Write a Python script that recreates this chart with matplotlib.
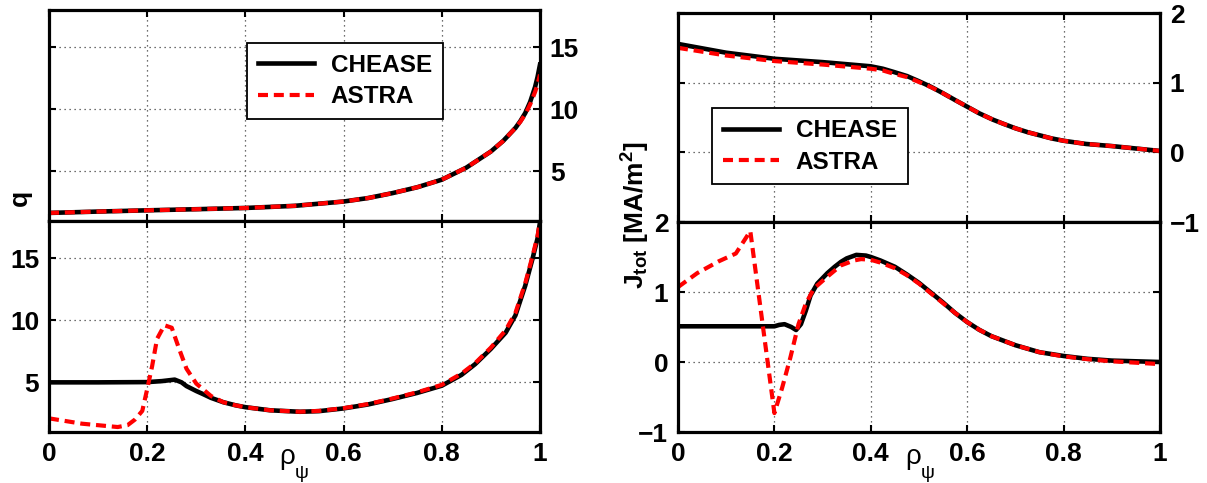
import matplotlib
matplotlib.use("Agg")
import matplotlib.pyplot as plt

plt.rcParams['font.family'] = ['Liberation Sans', 'DejaVu Sans']
plt.rcParams['mathtext.fontset'] = 'custom'
plt.rcParams['mathtext.rm'] = 'Liberation Sans'
plt.rcParams['mathtext.bf'] = 'Liberation Sans:bold'
plt.rcParams['mathtext.it'] = 'Liberation Sans:italic'

# ---------------- data ----------------
# upper-left: q profile
rho_q_top = [0, 0.1, 0.2, 0.3, 0.4, 0.5, 0.6, 0.65, 0.7, 0.75, 0.8, 0.85, 0.875, 0.9, 0.925,
             0.95, 0.96, 0.97, 0.98, 0.99, 0.995, 1.0]
q_top_chease = [1.65, 1.76, 1.86, 1.95, 2.05, 2.22, 2.57, 2.85, 3.25, 3.72, 4.33, 5.3, 5.95, 6.6,
                7.45, 8.5, 9.05, 9.7, 10.6, 11.8, 12.6, 13.6]
q_top_astra = [1.65, 1.76, 1.86, 1.95, 2.05, 2.22, 2.57, 2.85, 3.25, 3.72, 4.33, 5.3, 5.95, 6.6,
               7.45, 8.5, 9.0, 9.6, 10.4, 11.4, 12.0, 12.8]

# lower-left: q profile (reversed shear case)
rho_q_bot_chease = [0, 0.1, 0.2, 0.23, 0.256, 0.27, 0.28, 0.3, 0.314, 0.33, 0.355, 0.38, 0.4, 0.45,
                    0.511, 0.55, 0.6, 0.65, 0.7, 0.75, 0.8, 0.84, 0.868, 0.9, 0.93, 0.95, 0.97,
                    0.985, 0.995, 1.0]
q_bot_chease = [5.0, 5.0, 5.02, 5.1, 5.22, 5.0, 4.7, 4.3, 4.05, 3.75, 3.4, 3.15, 3.0, 2.75,
                2.63, 2.68, 2.9, 3.22, 3.66, 4.15, 4.73, 5.6, 6.47, 7.7, 9.0, 10.4, 12.8,
                15.0, 16.6, 17.9]
rho_q_bot_astra = [0, 0.067, 0.14, 0.16, 0.175, 0.19, 0.2, 0.21, 0.22, 0.235, 0.25, 0.265, 0.28,
                   0.3, 0.33, 0.355, 0.38, 0.4, 0.45, 0.511, 0.55, 0.6, 0.65, 0.7, 0.75, 0.8, 0.84,
                   0.868, 0.9, 0.93, 0.95, 0.97, 0.985, 0.995, 1.0]
q_bot_astra = [2.1, 1.67, 1.4, 1.55, 2.0, 2.7, 4.46, 6.3, 8.5, 9.6, 9.4, 7.7, 6.1,
               4.9, 3.9, 3.4, 3.15, 3.0, 2.75, 2.63, 2.7, 2.92, 3.25, 3.7, 4.2, 4.8, 5.7,
               6.55, 7.8, 9.2, 10.6, 13.0, 15.2, 16.8, 18.0]

# upper-right: J_tot profile
rho_j_top = [0, 0.1, 0.2, 0.3, 0.4, 0.425, 0.447, 0.475, 0.5, 0.525, 0.548, 0.575, 0.6, 0.625,
             0.653, 0.675, 0.7, 0.725, 0.75, 0.775, 0.8, 0.847, 0.9, 0.95, 1.0]
j_top_chease = [1.556, 1.43, 1.343, 1.295, 1.235, 1.2, 1.155, 1.095, 1.02, 0.94, 0.855, 0.75, 0.655,
                0.56, 0.47, 0.41, 0.345, 0.29, 0.245, 0.2, 0.166, 0.12, 0.09, 0.055, 0.02]
j_top_astra = [1.5, 1.39, 1.31, 1.26, 1.2, 1.175, 1.13, 1.08, 1.01, 0.935, 0.855, 0.75, 0.655,
               0.56, 0.47, 0.41, 0.345, 0.29, 0.245, 0.2, 0.166, 0.12, 0.09, 0.055, 0.02]

# lower-right: J_tot profile (reversed shear case)
rho_j_bot_chease = [0, 0.1, 0.2, 0.21, 0.221, 0.235, 0.245, 0.255, 0.265, 0.275, 0.289, 0.31, 0.325,
                    0.338, 0.35, 0.37, 0.39, 0.4, 0.42, 0.45, 0.475, 0.5, 0.525, 0.55, 0.575, 0.6,
                    0.625, 0.65, 0.7, 0.75, 0.8, 0.85, 0.9, 1.0]
j_bot_chease = [0.51, 0.51, 0.51, 0.53, 0.54, 0.5, 0.457, 0.54, 0.73, 0.95, 1.12, 1.27, 1.36,
                1.43, 1.48, 1.53, 1.52, 1.5, 1.45, 1.36, 1.25, 1.13, 0.99, 0.85, 0.7, 0.57,
                0.46, 0.37, 0.24, 0.14, 0.086, 0.045, 0.02, 0.0]
rho_j_bot_astra = [0, 0.04, 0.085, 0.12, 0.15, 0.2, 0.216, 0.233, 0.25, 0.265, 0.282, 0.31, 0.338,
                   0.365, 0.38, 0.4, 0.42, 0.45, 0.475, 0.5, 0.525, 0.55, 0.575, 0.6, 0.625, 0.65,
                   0.7, 0.75, 0.8, 0.85, 0.9, 1.0]
j_bot_astra = [1.07, 1.27, 1.44, 1.55, 1.87, -0.73, -0.37, 0.06, 0.54, 0.83, 1.05, 1.22, 1.38,
               1.45, 1.47, 1.46, 1.42, 1.34, 1.24, 1.12, 0.98, 0.84, 0.7, 0.57, 0.46, 0.37,
               0.24, 0.14, 0.08, 0.04, 0.01, -0.03]

x_ticks = [0, 0.2, 0.4, 0.6, 0.8, 1]
x_ticklabels = ['0', '0.2', '0.4', '0.6', '0.8', '1']
q_ticks = [5, 10, 15]
j_ticks = [-1, 0, 1, 2]

# ---------------- figure ----------------
W, H = 1207, 483
fig = plt.figure(figsize=(W / 100, H / 100), dpi=100)

def px_axes(x0, y0, x1, y1):
    return fig.add_axes([x0 / W, 1 - y1 / H, (x1 - x0) / W, (y1 - y0) / H])

FS = 19
LW_C = 3.3
LW_A = 3.0
DASH = (2.4, 1.4)

def style(ax, yticks, ylim, right_labels, show_x):
    ax.set_xlim(0, 1)
    ax.set_ylim(*ylim)
    ax.set_xticks(x_ticks)
    ax.set_yticks(yticks)
    if show_x:
        ax.set_xticklabels(x_ticklabels)
    else:
        ax.set_xticklabels([])
    ax.tick_params(direction='in', length=5, width=1.5, top=True, bottom=True,
                   left=True, right=True, labelsize=FS, pad=7,
                   labelleft=not right_labels, labelright=right_labels)
    for lab in ax.get_xticklabels() + ax.get_yticklabels():
        lab.set_fontweight('bold')
    ax.grid(True, linestyle=(0, (1, 3)), color='#404040', linewidth=0.9)
    for sp in ax.spines.values():
        sp.set_linewidth(2.3)
        sp.set_zorder(5)

def add_legend(ax, anchor):
    leg = ax.legend(loc='upper left', bbox_to_anchor=anchor,
                    prop={'weight': 'bold', 'size': 17.5}, frameon=True, fancybox=False,
                    edgecolor='black', framealpha=1, handlelength=2.3, borderpad=0.45,
                    labelspacing=0.35, handletextpad=0.7, borderaxespad=0)
    leg.get_frame().set_linewidth(1.3)
    return leg

# left column
ax1 = px_axes(49, 10, 540, 221)
ax1.plot(rho_q_top, q_top_chease, color='black', lw=LW_C, label='CHEASE')
ax1.plot(rho_q_top, q_top_astra, color='red', lw=LW_A, dashes=DASH, label='ASTRA')
style(ax1, q_ticks, (1, 18), True, False)
add_legend(ax1, (0.403, 0.845))

ax2 = px_axes(49, 221, 540, 432)
ax2.plot(rho_q_bot_chease, q_bot_chease, color='black', lw=LW_C)
ax2.plot(rho_q_bot_astra, q_bot_astra, color='red', lw=LW_A, dashes=DASH)
style(ax2, q_ticks, (1, 18), False, True)

# right column
ax3 = px_axes(678, 13, 1160, 222)
ax3.plot(rho_j_top, j_top_chease, color='black', lw=LW_C, label='CHEASE')
ax3.plot(rho_j_top, j_top_astra, color='red', lw=LW_A, dashes=DASH, label='ASTRA')
style(ax3, j_ticks, (-1, 2), True, False)
add_legend(ax3, (0.07, 0.545))

ax4 = px_axes(678, 222, 1160, 432)
ax4.plot(rho_j_bot_chease, j_bot_chease, color='black', lw=LW_C)
ax4.plot(rho_j_bot_astra, j_bot_astra, color='red', lw=LW_A, dashes=DASH)
style(ax4, j_ticks, (-1, 2), False, True)

# axis labels
fig.text(20 / W, 1 - 198 / H, 'q', rotation=90, fontsize=FS, fontweight='bold',
         ha='center', va='center')
fig.text(636 / W, 1 - 215 / H, r'$\mathbf{J_{tot}\ [MA/m^{2}]}$', rotation=90,
         fontsize=FS, ha='center', va='center')
for cx in (287, 913):
    fig.text(cx / W, 1 - 457 / H, '\u03c1', fontsize=20, ha='center', va='center')
    fig.text((cx + 15) / W, 1 - 474 / H, '\u03c8', fontsize=14, ha='center', va='center')

fig.savefig('out.png', dpi=100)
